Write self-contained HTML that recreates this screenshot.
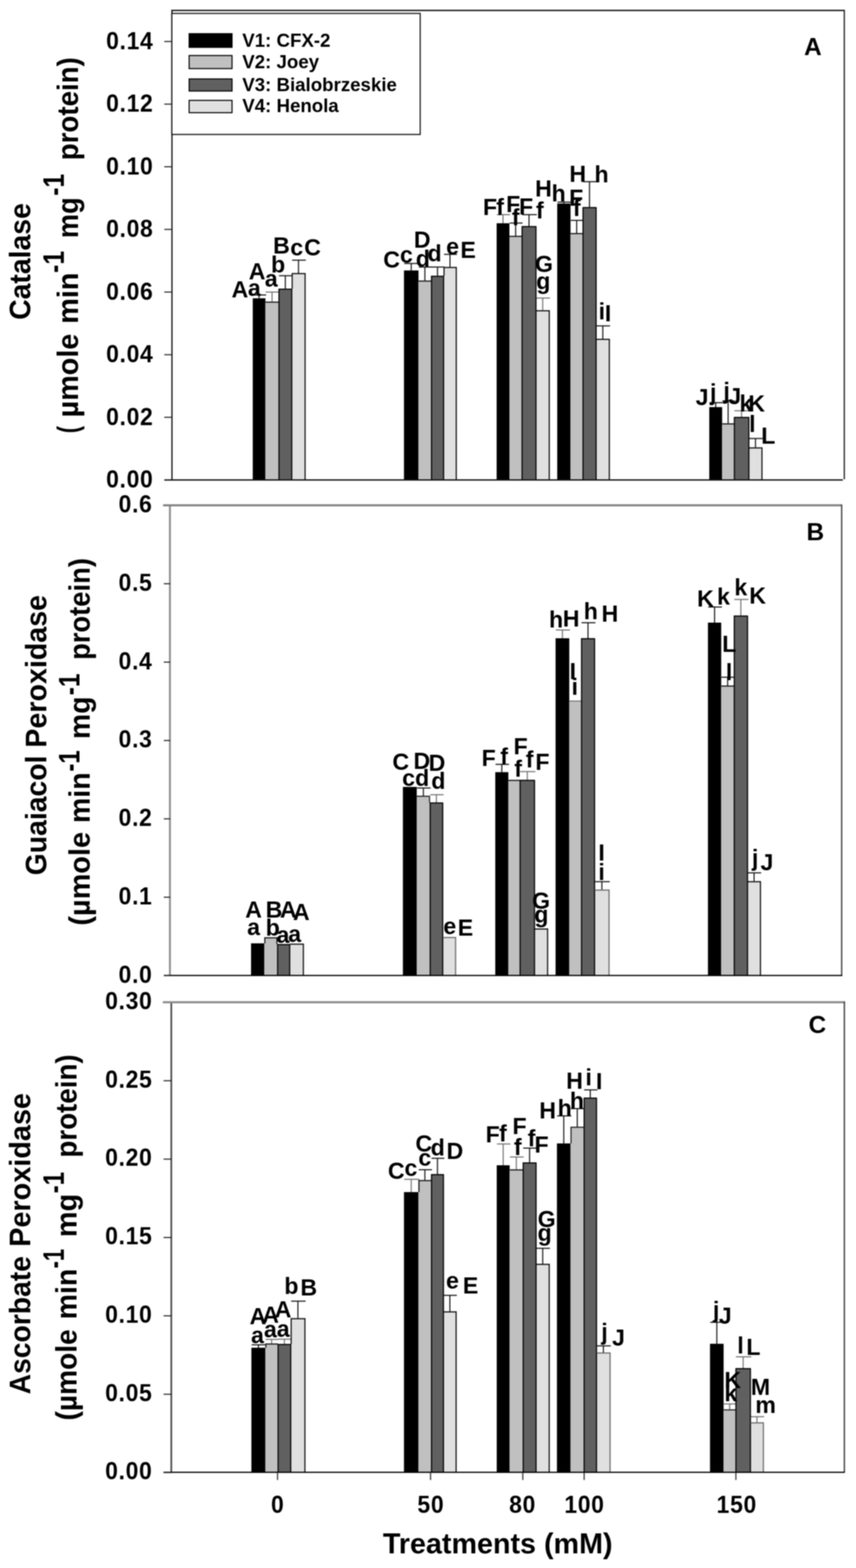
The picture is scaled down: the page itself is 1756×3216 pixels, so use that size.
<!DOCTYPE html>
<html lang="en">
<head>
<meta charset="utf-8">
<title>Antioxidant enzyme activity</title>
<style>
html,body{margin:0;padding:0;background:#fff;}
body{width:1756px;height:3216px;overflow:hidden;}
svg{display:block;filter:blur(0.9px);}
svg text{font-family:"Liberation Sans",Arial,Helvetica,sans-serif;font-weight:bold;fill:#000;}
</style>
</head>
<body>
<svg width="1756" height="3216" viewBox="0 0 1756 3216">
<rect x="0" y="0" width="1756" height="3216" fill="#ffffff"/>
<line x1="531.5" y1="605.0" x2="531.5" y2="611.8" stroke="#111" stroke-width="2.2"/>
<line x1="519.0" y1="605.0" x2="546.0" y2="605.0" stroke="#111" stroke-width="2.2"/>
<line x1="558.1" y1="599.0" x2="558.1" y2="618.8" stroke="#707070" stroke-width="2.2"/>
<line x1="545.0" y1="599.0" x2="573.3" y2="599.0" stroke="#707070" stroke-width="2.2"/>
<line x1="585.3" y1="565.5" x2="585.3" y2="592.2" stroke="#111" stroke-width="2.2"/>
<line x1="572.3" y1="565.5" x2="600.3" y2="565.5" stroke="#111" stroke-width="2.2"/>
<line x1="612.3" y1="533.6" x2="612.3" y2="560.2" stroke="#111" stroke-width="2.2"/>
<line x1="599.3" y1="533.6" x2="627.4" y2="533.6" stroke="#111" stroke-width="2.2"/>
<rect x="518.5" y="611.8" width="26.0" height="372.6" fill="#000000"/>
<rect x="544.5" y="618.8" width="27.3" height="365.6" fill="#c0c0c0"/>
<rect x="571.8" y="592.2" width="27.0" height="392.2" fill="#606060"/>
<rect x="598.8" y="560.2" width="27.1" height="424.2" fill="#e0e0e0"/>
<line x1="544.5" y1="619.7" x2="571.8" y2="619.7" stroke="#111" stroke-width="2.3"/>
<line x1="571.8" y1="593.1" x2="598.8" y2="593.1" stroke="#000" stroke-width="2.3"/>
<line x1="572.3" y1="592.2" x2="572.3" y2="984.4" stroke="#000" stroke-width="2.3"/>
<line x1="598.5" y1="592.2" x2="598.5" y2="984.4" stroke="#000" stroke-width="2.3"/>
<line x1="598.8" y1="561.1" x2="626.8" y2="561.1" stroke="#080808" stroke-width="2.3"/>
<line x1="625.9" y1="560.2" x2="625.9" y2="984.4" stroke="#080808" stroke-width="2.3"/>
<line x1="599.4" y1="560.2" x2="599.4" y2="592.2" stroke="#080808" stroke-width="2.3"/>
<line x1="843.6" y1="540.4" x2="843.6" y2="554.7" stroke="#111" stroke-width="2.2"/>
<line x1="829.2" y1="540.4" x2="860.0" y2="540.4" stroke="#111" stroke-width="2.2"/>
<line x1="871.6" y1="547.7" x2="871.6" y2="575.6" stroke="#111" stroke-width="2.2"/>
<line x1="859.0" y1="547.7" x2="886.2" y2="547.7" stroke="#111" stroke-width="2.2"/>
<line x1="897.5" y1="547.7" x2="897.5" y2="565.8" stroke="#111" stroke-width="2.2"/>
<line x1="885.2" y1="547.7" x2="911.8" y2="547.7" stroke="#111" stroke-width="2.2"/>
<line x1="923.1" y1="521.7" x2="923.1" y2="547.7" stroke="#111" stroke-width="2.2"/>
<line x1="910.8" y1="521.7" x2="937.5" y2="521.7" stroke="#111" stroke-width="2.2"/>
<rect x="828.7" y="554.7" width="29.8" height="429.7" fill="#000000"/>
<rect x="858.5" y="575.6" width="26.2" height="408.8" fill="#c0c0c0"/>
<rect x="884.7" y="565.8" width="25.6" height="418.6" fill="#606060"/>
<rect x="910.3" y="547.7" width="25.7" height="436.7" fill="#e0e0e0"/>
<line x1="858.5" y1="576.5" x2="884.7" y2="576.5" stroke="#111" stroke-width="2.3"/>
<line x1="884.7" y1="566.7" x2="910.3" y2="566.7" stroke="#000" stroke-width="2.3"/>
<line x1="885.2" y1="565.8" x2="885.2" y2="984.4" stroke="#000" stroke-width="2.3"/>
<line x1="910.0" y1="565.8" x2="910.0" y2="984.4" stroke="#000" stroke-width="2.3"/>
<line x1="910.3" y1="548.6" x2="936.9" y2="548.6" stroke="#080808" stroke-width="2.3"/>
<line x1="936.0" y1="547.7" x2="936.0" y2="984.4" stroke="#080808" stroke-width="2.3"/>
<line x1="910.9" y1="547.7" x2="910.9" y2="565.8" stroke="#080808" stroke-width="2.3"/>
<line x1="1031.9" y1="440.2" x2="1031.9" y2="457.9" stroke="#707070" stroke-width="2.2"/>
<line x1="1019.3" y1="440.2" x2="1046.5" y2="440.2" stroke="#707070" stroke-width="2.2"/>
<line x1="1057.8" y1="457.5" x2="1057.8" y2="483.9" stroke="#111" stroke-width="2.2"/>
<line x1="1045.5" y1="457.5" x2="1072.0" y2="457.5" stroke="#111" stroke-width="2.2"/>
<line x1="1085.2" y1="440.2" x2="1085.2" y2="463.9" stroke="#111" stroke-width="2.2"/>
<line x1="1071.0" y1="440.2" x2="1101.3" y2="440.2" stroke="#111" stroke-width="2.2"/>
<line x1="1113.3" y1="611.3" x2="1113.3" y2="636.5" stroke="#707070" stroke-width="2.2"/>
<line x1="1100.3" y1="611.3" x2="1128.3" y2="611.3" stroke="#707070" stroke-width="2.2"/>
<rect x="1018.8" y="457.9" width="26.2" height="526.5" fill="#000000"/>
<rect x="1045.0" y="483.9" width="25.5" height="500.5" fill="#c0c0c0"/>
<rect x="1070.5" y="463.9" width="29.3" height="520.5" fill="#606060"/>
<rect x="1099.8" y="636.5" width="27.0" height="347.9" fill="#e0e0e0"/>
<line x1="1045.0" y1="484.8" x2="1070.5" y2="484.8" stroke="#111" stroke-width="2.3"/>
<line x1="1070.5" y1="464.8" x2="1099.8" y2="464.8" stroke="#000" stroke-width="2.3"/>
<line x1="1071.0" y1="463.9" x2="1071.0" y2="984.4" stroke="#000" stroke-width="2.3"/>
<line x1="1099.5" y1="463.9" x2="1099.5" y2="984.4" stroke="#000" stroke-width="2.3"/>
<line x1="1099.8" y1="637.4" x2="1127.7" y2="637.4" stroke="#080808" stroke-width="2.3"/>
<line x1="1126.8" y1="636.5" x2="1126.8" y2="984.4" stroke="#080808" stroke-width="2.3"/>
<line x1="1156.8" y1="414.5" x2="1156.8" y2="417.4" stroke="#111" stroke-width="2.2"/>
<line x1="1143.6" y1="414.5" x2="1171.9" y2="414.5" stroke="#111" stroke-width="2.2"/>
<line x1="1183.0" y1="452.0" x2="1183.0" y2="478.2" stroke="#111" stroke-width="2.2"/>
<line x1="1170.9" y1="452.0" x2="1197.0" y2="452.0" stroke="#111" stroke-width="2.2"/>
<line x1="1209.3" y1="372.6" x2="1209.3" y2="424.9" stroke="#111" stroke-width="2.2"/>
<line x1="1196.0" y1="372.6" x2="1224.7" y2="372.6" stroke="#111" stroke-width="2.2"/>
<line x1="1236.6" y1="668.4" x2="1236.6" y2="695.1" stroke="#111" stroke-width="2.2"/>
<line x1="1223.7" y1="668.4" x2="1251.5" y2="668.4" stroke="#111" stroke-width="2.2"/>
<rect x="1143.1" y="417.4" width="27.3" height="567.0" fill="#000000"/>
<rect x="1170.4" y="478.2" width="25.1" height="506.2" fill="#c0c0c0"/>
<rect x="1195.5" y="424.9" width="27.7" height="559.5" fill="#606060"/>
<rect x="1223.2" y="695.1" width="26.8" height="289.3" fill="#e0e0e0"/>
<line x1="1170.4" y1="479.1" x2="1195.5" y2="479.1" stroke="#111" stroke-width="2.3"/>
<line x1="1195.5" y1="425.8" x2="1223.2" y2="425.8" stroke="#000" stroke-width="2.3"/>
<line x1="1196.0" y1="424.9" x2="1196.0" y2="984.4" stroke="#000" stroke-width="2.3"/>
<line x1="1222.9" y1="424.9" x2="1222.9" y2="984.4" stroke="#000" stroke-width="2.3"/>
<line x1="1223.2" y1="696.0" x2="1250.9" y2="696.0" stroke="#080808" stroke-width="2.3"/>
<line x1="1250.0" y1="695.1" x2="1250.0" y2="984.4" stroke="#080808" stroke-width="2.3"/>
<line x1="1468.2" y1="825.9" x2="1468.2" y2="835.0" stroke="#111" stroke-width="2.2"/>
<line x1="1455.5" y1="825.9" x2="1482.9" y2="825.9" stroke="#111" stroke-width="2.2"/>
<line x1="1493.7" y1="822.2" x2="1493.7" y2="868.5" stroke="#111" stroke-width="2.2"/>
<line x1="1481.9" y1="822.2" x2="1507.5" y2="822.2" stroke="#111" stroke-width="2.2"/>
<line x1="1521.2" y1="842.5" x2="1521.2" y2="855.3" stroke="#707070" stroke-width="2.2"/>
<line x1="1506.5" y1="842.5" x2="1538.0" y2="842.5" stroke="#707070" stroke-width="2.2"/>
<line x1="1549.8" y1="899.4" x2="1549.8" y2="917.8" stroke="#111" stroke-width="2.2"/>
<line x1="1537.0" y1="899.4" x2="1564.6" y2="899.4" stroke="#111" stroke-width="2.2"/>
<rect x="1455.0" y="835.0" width="26.4" height="149.4" fill="#000000"/>
<rect x="1481.4" y="868.5" width="24.6" height="115.9" fill="#c0c0c0"/>
<rect x="1506.0" y="855.3" width="30.5" height="129.1" fill="#606060"/>
<rect x="1536.5" y="917.8" width="26.6" height="66.6" fill="#e0e0e0"/>
<line x1="1481.4" y1="869.4" x2="1506.0" y2="869.4" stroke="#111" stroke-width="2.3"/>
<line x1="1506.0" y1="856.2" x2="1536.5" y2="856.2" stroke="#000" stroke-width="2.3"/>
<line x1="1506.5" y1="855.3" x2="1506.5" y2="984.4" stroke="#000" stroke-width="2.3"/>
<line x1="1536.2" y1="855.3" x2="1536.2" y2="984.4" stroke="#000" stroke-width="2.3"/>
<line x1="1536.5" y1="918.7" x2="1564.0" y2="918.7" stroke="#080808" stroke-width="2.3"/>
<line x1="1563.1" y1="917.8" x2="1563.1" y2="984.4" stroke="#080808" stroke-width="2.3"/>
<line x1="352.8" y1="20.3" x2="352.8" y2="985.4" stroke="#111" stroke-width="2.6"/>
<line x1="351.5" y1="21.3" x2="1733.0" y2="21.3" stroke="#111" stroke-width="2.8"/>
<line x1="1732.0" y1="20.3" x2="1732.0" y2="983.0" stroke="#222" stroke-width="2.6"/>
<line x1="337.0" y1="984.4" x2="1729.0" y2="984.4" stroke="#111" stroke-width="2.8"/>
<line x1="337.0" y1="85.1" x2="352.8" y2="85.1" stroke="#222" stroke-width="2.2"/>
<text transform="translate(314.9,100.9) scale(1,1.065)" font-size="47" letter-spacing="1.4" text-anchor="end">0.14</text>
<line x1="337.0" y1="213.6" x2="352.8" y2="213.6" stroke="#222" stroke-width="2.2"/>
<text transform="translate(314.9,229.4) scale(1,1.065)" font-size="47" letter-spacing="1.4" text-anchor="end">0.12</text>
<line x1="337.0" y1="342.0" x2="352.8" y2="342.0" stroke="#222" stroke-width="2.2"/>
<text transform="translate(314.9,357.8) scale(1,1.065)" font-size="47" letter-spacing="1.4" text-anchor="end">0.10</text>
<line x1="337.0" y1="470.5" x2="352.8" y2="470.5" stroke="#222" stroke-width="2.2"/>
<text transform="translate(314.9,486.3) scale(1,1.065)" font-size="47" letter-spacing="1.4" text-anchor="end">0.08</text>
<line x1="337.0" y1="599.0" x2="352.8" y2="599.0" stroke="#222" stroke-width="2.2"/>
<text transform="translate(314.9,614.8) scale(1,1.065)" font-size="47" letter-spacing="1.4" text-anchor="end">0.06</text>
<line x1="337.0" y1="727.5" x2="352.8" y2="727.5" stroke="#222" stroke-width="2.2"/>
<text transform="translate(314.9,743.2) scale(1,1.065)" font-size="47" letter-spacing="1.4" text-anchor="end">0.04</text>
<line x1="337.0" y1="855.9" x2="352.8" y2="855.9" stroke="#222" stroke-width="2.2"/>
<text transform="translate(314.9,871.7) scale(1,1.065)" font-size="47" letter-spacing="1.4" text-anchor="end">0.02</text>
<line x1="337.0" y1="984.4" x2="352.8" y2="984.4" stroke="#222" stroke-width="2.2"/>
<text transform="translate(314.9,1000.2) scale(1,1.065)" font-size="47" letter-spacing="1.4" text-anchor="end">0.00</text>
<text x="475.1" y="610.3" font-size="47.5" text-anchor="start">A</text>
<text x="508.5" y="607.0" font-size="47.5" text-anchor="start">a</text>
<text x="510.3" y="573.0" font-size="47.5" text-anchor="start">A</text>
<text x="543.2" y="588.0" font-size="47.5" text-anchor="start">a</text>
<text x="556.1" y="558.5" font-size="47.5" text-anchor="start">b</text>
<text x="560.3" y="519.7" font-size="47.5" text-anchor="start">B</text>
<text x="595.6" y="524.0" font-size="47.5" text-anchor="start">c</text>
<text x="624.0" y="524.0" font-size="47.5" text-anchor="start">C</text>
<text x="786.2" y="549.0" font-size="47.5" text-anchor="start">C</text>
<text x="820.6" y="538.5" font-size="47.5" text-anchor="start">c</text>
<text x="848.9" y="507.8" font-size="47.5" text-anchor="start">D</text>
<text x="853.1" y="547.0" font-size="47.5" text-anchor="start">d</text>
<text x="877.1" y="535.5" font-size="47.5" text-anchor="start">d</text>
<text x="915.2" y="521.7" font-size="47.5" text-anchor="start">e</text>
<text x="944.5" y="529.0" font-size="47.5" text-anchor="start">E</text>
<text x="990.8" y="441.3" font-size="47.5" text-anchor="start">F</text>
<text x="1018.0" y="441.0" font-size="47.5" text-anchor="start">f</text>
<text x="1038.3" y="434.5" font-size="47.5" text-anchor="start">F</text>
<text x="1050.0" y="462.0" font-size="47.5" text-anchor="start">f</text>
<text x="1064.8" y="440.2" font-size="47.5" text-anchor="start">F</text>
<text x="1099.6" y="448.3" font-size="47.5" text-anchor="start">f</text>
<text x="1097.5" y="557.6" font-size="47.5" text-anchor="start">G</text>
<text x="1100.0" y="593.0" font-size="47.5" text-anchor="start">g</text>
<text x="1097.8" y="402.5" font-size="47.5" text-anchor="start">H</text>
<text x="1131.6" y="413.2" font-size="47.5" text-anchor="start">h</text>
<text x="1167.4" y="421.7" font-size="47.5" text-anchor="start">F</text>
<text x="1175.2" y="443.0" font-size="47.5" text-anchor="start">f</text>
<text x="1168.1" y="372.6" font-size="47.5" text-anchor="start">H</text>
<text x="1219.6" y="373.7" font-size="47.5" text-anchor="start">h</text>
<text x="1228.0" y="654.6" font-size="47.5" text-anchor="start">i</text>
<text x="1240.8" y="658.8" font-size="47.5" text-anchor="start">I</text>
<text x="1427.1" y="831.0" font-size="47.5" text-anchor="start">J</text>
<text x="1456.4" y="821.0" font-size="47.5" text-anchor="start">j</text>
<text x="1483.9" y="818.0" font-size="47.5" text-anchor="start">j</text>
<text x="1494.1" y="828.5" font-size="47.5" text-anchor="start">J</text>
<text x="1517.1" y="843.6" font-size="47.5" text-anchor="start">k</text>
<text x="1535.0" y="843.6" font-size="47.5" text-anchor="start">K</text>
<text x="1536.8" y="886.2" font-size="47.5" text-anchor="start">l</text>
<text x="1561.6" y="909.7" font-size="47.5" text-anchor="start">L</text>
<text x="1649.5" y="113.0" font-size="50" text-anchor="start">A</text>
<rect x="515.0" y="1934.8" width="27.3" height="66.2" fill="#000000"/>
<rect x="542.3" y="1922.6" width="26.7" height="78.4" fill="#c0c0c0"/>
<rect x="569.0" y="1936.5" width="25.6" height="64.5" fill="#606060"/>
<rect x="594.6" y="1935.6" width="27.7" height="65.4" fill="#e0e0e0"/>
<line x1="542.3" y1="1923.5" x2="569.0" y2="1923.5" stroke="#111" stroke-width="2.3"/>
<line x1="543.2" y1="1922.6" x2="543.2" y2="1934.8" stroke="#111" stroke-width="2.3"/>
<line x1="568.1" y1="1922.6" x2="568.1" y2="1936.5" stroke="#111" stroke-width="2.3"/>
<line x1="569.0" y1="1937.4" x2="594.6" y2="1937.4" stroke="#000" stroke-width="2.3"/>
<line x1="569.5" y1="1936.5" x2="569.5" y2="2001.0" stroke="#000" stroke-width="2.3"/>
<line x1="594.3" y1="1936.5" x2="594.3" y2="2001.0" stroke="#000" stroke-width="2.3"/>
<line x1="594.6" y1="1936.5" x2="623.2" y2="1936.5" stroke="#080808" stroke-width="2.3"/>
<line x1="622.3" y1="1935.6" x2="622.3" y2="2001.0" stroke="#080808" stroke-width="2.3"/>
<line x1="868.5" y1="1616.2" x2="868.5" y2="1632.2" stroke="#111" stroke-width="2.2"/>
<line x1="855.4" y1="1616.2" x2="883.5" y2="1616.2" stroke="#111" stroke-width="2.2"/>
<line x1="895.2" y1="1630.0" x2="895.2" y2="1646.0" stroke="#707070" stroke-width="2.2"/>
<line x1="882.5" y1="1630.0" x2="910.0" y2="1630.0" stroke="#707070" stroke-width="2.2"/>
<rect x="826.5" y="1614.0" width="28.4" height="387.0" fill="#000000"/>
<rect x="854.9" y="1632.2" width="27.1" height="368.8" fill="#c0c0c0"/>
<rect x="882.0" y="1646.0" width="26.5" height="355.0" fill="#606060"/>
<rect x="908.5" y="1922.0" width="26.1" height="79.0" fill="#e0e0e0"/>
<line x1="854.9" y1="1633.1" x2="882.0" y2="1633.1" stroke="#222" stroke-width="2.3"/>
<line x1="881.1" y1="1632.2" x2="881.1" y2="1646.0" stroke="#222" stroke-width="2.3"/>
<line x1="882.0" y1="1646.9" x2="908.5" y2="1646.9" stroke="#000" stroke-width="2.3"/>
<line x1="882.5" y1="1646.0" x2="882.5" y2="2001.0" stroke="#000" stroke-width="2.3"/>
<line x1="908.2" y1="1646.0" x2="908.2" y2="2001.0" stroke="#000" stroke-width="2.3"/>
<line x1="908.5" y1="1922.9" x2="935.5" y2="1922.9" stroke="#666" stroke-width="2.3"/>
<line x1="934.6" y1="1922.0" x2="934.6" y2="2001.0" stroke="#666" stroke-width="2.3"/>
<line x1="1029.4" y1="1567.7" x2="1029.4" y2="1583.7" stroke="#111" stroke-width="2.2"/>
<line x1="1016.5" y1="1567.7" x2="1044.3" y2="1567.7" stroke="#111" stroke-width="2.2"/>
<line x1="1081.7" y1="1582.6" x2="1081.7" y2="1599.7" stroke="#707070" stroke-width="2.2"/>
<line x1="1067.0" y1="1582.6" x2="1098.3" y2="1582.6" stroke="#707070" stroke-width="2.2"/>
<rect x="1016.0" y="1583.7" width="26.8" height="417.3" fill="#000000"/>
<rect x="1042.8" y="1599.7" width="23.7" height="401.3" fill="#c0c0c0"/>
<rect x="1066.5" y="1599.7" width="30.3" height="401.3" fill="#606060"/>
<rect x="1096.8" y="1904.5" width="26.5" height="96.5" fill="#e0e0e0"/>
<line x1="1042.8" y1="1600.6" x2="1066.5" y2="1600.6" stroke="#111" stroke-width="2.3"/>
<line x1="1066.5" y1="1600.6" x2="1096.8" y2="1600.6" stroke="#000" stroke-width="2.3"/>
<line x1="1067.0" y1="1599.7" x2="1067.0" y2="2001.0" stroke="#000" stroke-width="2.3"/>
<line x1="1096.5" y1="1599.7" x2="1096.5" y2="2001.0" stroke="#000" stroke-width="2.3"/>
<line x1="1096.8" y1="1905.4" x2="1124.2" y2="1905.4" stroke="#080808" stroke-width="2.3"/>
<line x1="1123.3" y1="1904.5" x2="1123.3" y2="2001.0" stroke="#080808" stroke-width="2.3"/>
<line x1="1153.8" y1="1292.1" x2="1153.8" y2="1309.1" stroke="#707070" stroke-width="2.2"/>
<line x1="1140.2" y1="1292.1" x2="1169.3" y2="1292.1" stroke="#707070" stroke-width="2.2"/>
<line x1="1206.2" y1="1277.2" x2="1206.2" y2="1309.1" stroke="#111" stroke-width="2.2"/>
<line x1="1193.0" y1="1277.2" x2="1221.5" y2="1277.2" stroke="#111" stroke-width="2.2"/>
<line x1="1234.7" y1="1808.3" x2="1234.7" y2="1824.7" stroke="#111" stroke-width="2.2"/>
<line x1="1220.5" y1="1808.3" x2="1250.9" y2="1808.3" stroke="#111" stroke-width="2.2"/>
<rect x="1139.7" y="1309.1" width="28.1" height="691.9" fill="#000000"/>
<rect x="1167.8" y="1437.0" width="24.7" height="564.0" fill="#c0c0c0"/>
<rect x="1192.5" y="1309.1" width="27.5" height="691.9" fill="#606060"/>
<rect x="1220.0" y="1824.7" width="29.4" height="176.3" fill="#e0e0e0"/>
<line x1="1167.8" y1="1437.9" x2="1192.5" y2="1437.9" stroke="#777" stroke-width="2.3"/>
<line x1="1192.5" y1="1310.0" x2="1220.0" y2="1310.0" stroke="#000" stroke-width="2.3"/>
<line x1="1193.0" y1="1309.1" x2="1193.0" y2="2001.0" stroke="#000" stroke-width="2.3"/>
<line x1="1219.7" y1="1309.1" x2="1219.7" y2="2001.0" stroke="#000" stroke-width="2.3"/>
<line x1="1220.0" y1="1825.6" x2="1250.3" y2="1825.6" stroke="#666" stroke-width="2.3"/>
<line x1="1249.4" y1="1824.7" x2="1249.4" y2="2001.0" stroke="#666" stroke-width="2.3"/>
<line x1="1465.9" y1="1245.0" x2="1465.9" y2="1277.0" stroke="#111" stroke-width="2.2"/>
<line x1="1452.8" y1="1245.0" x2="1481.0" y2="1245.0" stroke="#111" stroke-width="2.2"/>
<line x1="1492.7" y1="1389.0" x2="1492.7" y2="1406.2" stroke="#111" stroke-width="2.2"/>
<line x1="1480.0" y1="1389.0" x2="1507.3" y2="1389.0" stroke="#111" stroke-width="2.2"/>
<line x1="1519.8" y1="1229.5" x2="1519.8" y2="1262.7" stroke="#707070" stroke-width="2.2"/>
<line x1="1506.3" y1="1229.5" x2="1535.3" y2="1229.5" stroke="#707070" stroke-width="2.2"/>
<line x1="1546.9" y1="1790.2" x2="1546.9" y2="1807.5" stroke="#111" stroke-width="2.2"/>
<line x1="1534.3" y1="1790.2" x2="1561.5" y2="1790.2" stroke="#111" stroke-width="2.2"/>
<rect x="1452.3" y="1277.0" width="27.2" height="724.0" fill="#000000"/>
<rect x="1479.5" y="1406.2" width="26.3" height="594.8" fill="#c0c0c0"/>
<rect x="1505.8" y="1262.7" width="28.0" height="738.3" fill="#606060"/>
<rect x="1533.8" y="1807.5" width="26.2" height="193.5" fill="#e0e0e0"/>
<line x1="1479.5" y1="1407.1" x2="1505.8" y2="1407.1" stroke="#111" stroke-width="2.3"/>
<line x1="1505.8" y1="1263.6" x2="1533.8" y2="1263.6" stroke="#000" stroke-width="2.3"/>
<line x1="1506.3" y1="1262.7" x2="1506.3" y2="2001.0" stroke="#000" stroke-width="2.3"/>
<line x1="1533.5" y1="1262.7" x2="1533.5" y2="2001.0" stroke="#000" stroke-width="2.3"/>
<line x1="1533.8" y1="1808.4" x2="1560.9" y2="1808.4" stroke="#080808" stroke-width="2.3"/>
<line x1="1560.0" y1="1807.5" x2="1560.0" y2="2001.0" stroke="#080808" stroke-width="2.3"/>
<line x1="348.6" y1="1035.0" x2="348.6" y2="2001.0" stroke="#8a8a8a" stroke-width="3.8"/>
<line x1="334.5" y1="1036.3" x2="1728.0" y2="1036.3" stroke="#808080" stroke-width="4.2"/>
<line x1="1726.6" y1="1035.0" x2="1726.6" y2="2001.0" stroke="#484848" stroke-width="2.8"/>
<line x1="336.0" y1="2000.8" x2="1728.0" y2="2000.8" stroke="#000" stroke-width="2.6"/>
<text transform="translate(312.9,1051.1) scale(1,1.065)" font-size="47" letter-spacing="1.4" text-anchor="end">0.6</text>
<line x1="336.0" y1="1197.2" x2="349.1" y2="1197.2" stroke="#222" stroke-width="2.2"/>
<text transform="translate(312.9,1211.8) scale(1,1.065)" font-size="47" letter-spacing="1.4" text-anchor="end">0.5</text>
<line x1="336.0" y1="1358.0" x2="349.1" y2="1358.0" stroke="#222" stroke-width="2.2"/>
<text transform="translate(312.9,1372.6) scale(1,1.065)" font-size="47" letter-spacing="1.4" text-anchor="end">0.4</text>
<line x1="336.0" y1="1518.8" x2="349.1" y2="1518.8" stroke="#222" stroke-width="2.2"/>
<text transform="translate(312.9,1533.3) scale(1,1.065)" font-size="47" letter-spacing="1.4" text-anchor="end">0.3</text>
<line x1="336.0" y1="1679.5" x2="349.1" y2="1679.5" stroke="#222" stroke-width="2.2"/>
<text transform="translate(312.9,1694.1) scale(1,1.065)" font-size="47" letter-spacing="1.4" text-anchor="end">0.2</text>
<line x1="336.0" y1="1840.2" x2="349.1" y2="1840.2" stroke="#222" stroke-width="2.2"/>
<text transform="translate(312.9,1854.8) scale(1,1.065)" font-size="47" letter-spacing="1.4" text-anchor="end">0.1</text>
<line x1="336.0" y1="2001.0" x2="349.1" y2="2001.0" stroke="#222" stroke-width="2.2"/>
<text transform="translate(312.9,2015.6) scale(1,1.065)" font-size="47" letter-spacing="1.4" text-anchor="end">0.0</text>
<text x="502.9" y="1881.7" font-size="47.5" text-anchor="start">A</text>
<text x="507.1" y="1918.3" font-size="47.5" text-anchor="start">a</text>
<text x="544.9" y="1881.7" font-size="47.5" text-anchor="start">B</text>
<text x="544.9" y="1919.4" font-size="47.5" text-anchor="start">b</text>
<text x="574.3" y="1881.7" font-size="47.5" text-anchor="start">A</text>
<text x="600.9" y="1887.4" font-size="47.5" text-anchor="start">A</text>
<text x="567.2" y="1934.3" font-size="47.5" text-anchor="start">a</text>
<text x="591.2" y="1932.2" font-size="47.5" text-anchor="start">a</text>
<text x="804.9" y="1578.9" font-size="47.5" text-anchor="start">C</text>
<text x="848.3" y="1577.2" font-size="47.5" text-anchor="start">D</text>
<text x="879.3" y="1581.0" font-size="47.5" text-anchor="start">D</text>
<text x="825.0" y="1612.0" font-size="47.5" text-anchor="start">c</text>
<text x="851.6" y="1612.0" font-size="47.5" text-anchor="start">d</text>
<text x="884.7" y="1618.3" font-size="47.5" text-anchor="start">d</text>
<text x="909.6" y="1916.2" font-size="47.5" text-anchor="start">e</text>
<text x="938.9" y="1919.4" font-size="47.5" text-anchor="start">E</text>
<text x="988.0" y="1570.9" font-size="47.5" text-anchor="start">F</text>
<text x="1026.2" y="1567.7" font-size="47.5" text-anchor="start">f</text>
<text x="1053.5" y="1547.4" font-size="47.5" text-anchor="start">F</text>
<text x="1055.0" y="1593.3" font-size="47.5" text-anchor="start">f</text>
<text x="1078.5" y="1574.0" font-size="47.5" text-anchor="start">f</text>
<text x="1098.3" y="1579.4" font-size="47.5" text-anchor="start">F</text>
<text x="1091.5" y="1864.0" font-size="47.5" text-anchor="start">G</text>
<text x="1096.1" y="1892.0" font-size="47.5" text-anchor="start">g</text>
<text x="1126.3" y="1286.8" font-size="47.5" text-anchor="start">h</text>
<text x="1154.6" y="1284.6" font-size="47.5" text-anchor="start">H</text>
<text x="1197.5" y="1269.7" font-size="47.5" text-anchor="start">h</text>
<text x="1233.9" y="1275.0" font-size="47.5" text-anchor="start">H</text>
<text x="1168.4" y="1392.5" font-size="47.5" text-anchor="start">I</text>
<text x="1172.6" y="1425.2" font-size="47.5" text-anchor="start">i</text>
<text x="1227.4" y="1765.0" font-size="47.5" text-anchor="start">I</text>
<text x="1227.4" y="1804.5" font-size="47.5" text-anchor="start">i</text>
<text x="1430.0" y="1244.0" font-size="47.5" text-anchor="start">K</text>
<text x="1470.9" y="1239.7" font-size="47.5" text-anchor="start">k</text>
<text x="1506.6" y="1220.5" font-size="47.5" text-anchor="start">k</text>
<text x="1537.1" y="1237.6" font-size="47.5" text-anchor="start">K</text>
<text x="1481.6" y="1336.7" font-size="47.5" text-anchor="start">L</text>
<text x="1489.0" y="1395.3" font-size="47.5" text-anchor="start">l</text>
<text x="1542.4" y="1776.0" font-size="47.5" text-anchor="start">j</text>
<text x="1559.9" y="1784.5" font-size="47.5" text-anchor="start">J</text>
<text x="1654.4" y="1108.2" font-size="50" text-anchor="start">B</text>
<line x1="530.1" y1="2758.2" x2="530.1" y2="2764.2" stroke="#111" stroke-width="2.2"/>
<line x1="516.2" y1="2758.2" x2="546.0" y2="2758.2" stroke="#111" stroke-width="2.2"/>
<line x1="557.2" y1="2747.1" x2="557.2" y2="2755.7" stroke="#707070" stroke-width="2.2"/>
<line x1="545.0" y1="2747.1" x2="571.5" y2="2747.1" stroke="#707070" stroke-width="2.2"/>
<line x1="583.4" y1="2746.7" x2="583.4" y2="2756.7" stroke="#707070" stroke-width="2.2"/>
<line x1="570.5" y1="2746.7" x2="598.2" y2="2746.7" stroke="#707070" stroke-width="2.2"/>
<line x1="611.1" y1="2668.7" x2="611.1" y2="2703.8" stroke="#111" stroke-width="2.2"/>
<line x1="597.2" y1="2668.7" x2="627.0" y2="2668.7" stroke="#111" stroke-width="2.2"/>
<rect x="515.7" y="2764.2" width="28.8" height="255.6" fill="#000000"/>
<rect x="544.5" y="2755.7" width="25.5" height="264.1" fill="#c0c0c0"/>
<rect x="570.0" y="2756.7" width="26.7" height="263.1" fill="#606060"/>
<rect x="596.7" y="2703.8" width="28.8" height="316.0" fill="#e0e0e0"/>
<line x1="544.5" y1="2756.6" x2="570.0" y2="2756.6" stroke="#111" stroke-width="2.3"/>
<line x1="545.4" y1="2755.7" x2="545.4" y2="2764.2" stroke="#111" stroke-width="2.3"/>
<line x1="570.0" y1="2757.6" x2="596.7" y2="2757.6" stroke="#000" stroke-width="2.3"/>
<line x1="570.5" y1="2756.7" x2="570.5" y2="3019.8" stroke="#000" stroke-width="2.3"/>
<line x1="596.4" y1="2756.7" x2="596.4" y2="3019.8" stroke="#000" stroke-width="2.3"/>
<line x1="596.7" y1="2704.7" x2="626.4" y2="2704.7" stroke="#080808" stroke-width="2.3"/>
<line x1="625.5" y1="2703.8" x2="625.5" y2="3019.8" stroke="#080808" stroke-width="2.3"/>
<line x1="597.3" y1="2703.8" x2="597.3" y2="2756.7" stroke="#080808" stroke-width="2.3"/>
<line x1="843.6" y1="2418.8" x2="843.6" y2="2445.0" stroke="#707070" stroke-width="2.2"/>
<line x1="829.2" y1="2418.8" x2="860.0" y2="2418.8" stroke="#707070" stroke-width="2.2"/>
<line x1="871.6" y1="2399.1" x2="871.6" y2="2420.5" stroke="#111" stroke-width="2.2"/>
<line x1="859.0" y1="2399.1" x2="886.2" y2="2399.1" stroke="#111" stroke-width="2.2"/>
<line x1="897.4" y1="2375.7" x2="897.4" y2="2408.3" stroke="#111" stroke-width="2.2"/>
<line x1="885.2" y1="2375.7" x2="911.5" y2="2375.7" stroke="#111" stroke-width="2.2"/>
<line x1="922.9" y1="2656.8" x2="922.9" y2="2689.8" stroke="#111" stroke-width="2.2"/>
<line x1="910.5" y1="2656.8" x2="937.2" y2="2656.8" stroke="#111" stroke-width="2.2"/>
<rect x="828.7" y="2445.0" width="29.8" height="574.8" fill="#000000"/>
<rect x="858.5" y="2420.5" width="26.2" height="599.3" fill="#c0c0c0"/>
<rect x="884.7" y="2408.3" width="25.3" height="611.5" fill="#606060"/>
<rect x="910.0" y="2689.8" width="25.7" height="330.0" fill="#e0e0e0"/>
<line x1="858.5" y1="2421.4" x2="884.7" y2="2421.4" stroke="#111" stroke-width="2.3"/>
<line x1="859.4" y1="2420.5" x2="859.4" y2="2445.0" stroke="#111" stroke-width="2.3"/>
<line x1="884.7" y1="2409.2" x2="910.0" y2="2409.2" stroke="#000" stroke-width="2.3"/>
<line x1="885.2" y1="2408.3" x2="885.2" y2="3019.8" stroke="#000" stroke-width="2.3"/>
<line x1="909.7" y1="2408.3" x2="909.7" y2="3019.8" stroke="#000" stroke-width="2.3"/>
<line x1="910.0" y1="2690.7" x2="936.6" y2="2690.7" stroke="#080808" stroke-width="2.3"/>
<line x1="935.7" y1="2689.8" x2="935.7" y2="3019.8" stroke="#080808" stroke-width="2.3"/>
<line x1="1032.2" y1="2346.3" x2="1032.2" y2="2390.0" stroke="#707070" stroke-width="2.2"/>
<line x1="1019.5" y1="2346.3" x2="1047.0" y2="2346.3" stroke="#707070" stroke-width="2.2"/>
<line x1="1059.2" y1="2373.0" x2="1059.2" y2="2398.6" stroke="#707070" stroke-width="2.2"/>
<line x1="1046.0" y1="2373.0" x2="1074.3" y2="2373.0" stroke="#707070" stroke-width="2.2"/>
<line x1="1086.4" y1="2354.8" x2="1086.4" y2="2384.3" stroke="#111" stroke-width="2.2"/>
<line x1="1073.3" y1="2354.8" x2="1101.5" y2="2354.8" stroke="#111" stroke-width="2.2"/>
<line x1="1113.3" y1="2560.3" x2="1113.3" y2="2592.3" stroke="#111" stroke-width="2.2"/>
<line x1="1100.5" y1="2560.3" x2="1128.2" y2="2560.3" stroke="#111" stroke-width="2.2"/>
<rect x="1019.0" y="2390.0" width="26.5" height="629.8" fill="#000000"/>
<rect x="1045.5" y="2398.6" width="27.3" height="621.2" fill="#c0c0c0"/>
<rect x="1072.8" y="2384.3" width="27.2" height="635.5" fill="#606060"/>
<rect x="1100.0" y="2592.3" width="26.7" height="427.5" fill="#e0e0e0"/>
<line x1="1045.5" y1="2399.5" x2="1072.8" y2="2399.5" stroke="#111" stroke-width="2.3"/>
<line x1="1072.8" y1="2385.2" x2="1100.0" y2="2385.2" stroke="#000" stroke-width="2.3"/>
<line x1="1073.3" y1="2384.3" x2="1073.3" y2="3019.8" stroke="#000" stroke-width="2.3"/>
<line x1="1099.7" y1="2384.3" x2="1099.7" y2="3019.8" stroke="#000" stroke-width="2.3"/>
<line x1="1100.0" y1="2593.2" x2="1127.6" y2="2593.2" stroke="#080808" stroke-width="2.3"/>
<line x1="1126.7" y1="2592.3" x2="1126.7" y2="3019.8" stroke="#080808" stroke-width="2.3"/>
<line x1="1156.5" y1="2288.7" x2="1156.5" y2="2345.2" stroke="#111" stroke-width="2.2"/>
<line x1="1143.0" y1="2288.7" x2="1172.0" y2="2288.7" stroke="#111" stroke-width="2.2"/>
<line x1="1184.2" y1="2273.8" x2="1184.2" y2="2311.1" stroke="#111" stroke-width="2.2"/>
<line x1="1171.0" y1="2273.8" x2="1199.3" y2="2273.8" stroke="#111" stroke-width="2.2"/>
<line x1="1210.9" y1="2235.4" x2="1210.9" y2="2251.4" stroke="#111" stroke-width="2.2"/>
<line x1="1198.3" y1="2235.4" x2="1225.5" y2="2235.4" stroke="#111" stroke-width="2.2"/>
<line x1="1237.8" y1="2760.4" x2="1237.8" y2="2774.1" stroke="#111" stroke-width="2.2"/>
<line x1="1224.5" y1="2760.4" x2="1253.0" y2="2760.4" stroke="#111" stroke-width="2.2"/>
<rect x="1142.5" y="2345.2" width="28.0" height="674.6" fill="#000000"/>
<rect x="1170.5" y="2311.1" width="27.3" height="708.7" fill="#c0c0c0"/>
<rect x="1197.8" y="2251.4" width="26.2" height="768.4" fill="#606060"/>
<rect x="1224.0" y="2774.1" width="27.5" height="245.7" fill="#e0e0e0"/>
<line x1="1170.5" y1="2312.0" x2="1197.8" y2="2312.0" stroke="#222" stroke-width="2.3"/>
<line x1="1171.4" y1="2311.1" x2="1171.4" y2="2345.2" stroke="#222" stroke-width="2.3"/>
<line x1="1197.8" y1="2252.3" x2="1224.0" y2="2252.3" stroke="#000" stroke-width="2.3"/>
<line x1="1198.3" y1="2251.4" x2="1198.3" y2="3019.8" stroke="#000" stroke-width="2.3"/>
<line x1="1223.7" y1="2251.4" x2="1223.7" y2="3019.8" stroke="#000" stroke-width="2.3"/>
<line x1="1224.0" y1="2775.0" x2="1252.4" y2="2775.0" stroke="#666" stroke-width="2.3"/>
<line x1="1251.5" y1="2774.1" x2="1251.5" y2="3019.8" stroke="#666" stroke-width="2.3"/>
<line x1="1470.5" y1="2712.0" x2="1470.5" y2="2756.1" stroke="#111" stroke-width="2.2"/>
<line x1="1457.0" y1="2712.0" x2="1485.9" y2="2712.0" stroke="#111" stroke-width="2.2"/>
<line x1="1496.8" y1="2879.5" x2="1496.8" y2="2890.8" stroke="#707070" stroke-width="2.2"/>
<line x1="1484.9" y1="2879.5" x2="1510.7" y2="2879.5" stroke="#707070" stroke-width="2.2"/>
<line x1="1524.5" y1="2782.8" x2="1524.5" y2="2806.2" stroke="#707070" stroke-width="2.2"/>
<line x1="1509.7" y1="2782.8" x2="1541.2" y2="2782.8" stroke="#707070" stroke-width="2.2"/>
<line x1="1552.8" y1="2905.7" x2="1552.8" y2="2917.4" stroke="#707070" stroke-width="2.2"/>
<line x1="1540.2" y1="2905.7" x2="1567.5" y2="2905.7" stroke="#707070" stroke-width="2.2"/>
<rect x="1456.5" y="2756.1" width="27.9" height="263.7" fill="#000000"/>
<rect x="1484.4" y="2890.8" width="24.8" height="129.0" fill="#c0c0c0"/>
<rect x="1509.2" y="2806.2" width="30.5" height="213.6" fill="#606060"/>
<rect x="1539.7" y="2917.4" width="26.3" height="102.4" fill="#e0e0e0"/>
<line x1="1484.4" y1="2891.7" x2="1509.2" y2="2891.7" stroke="#222" stroke-width="2.3"/>
<line x1="1509.2" y1="2807.1" x2="1539.7" y2="2807.1" stroke="#000" stroke-width="2.3"/>
<line x1="1509.7" y1="2806.2" x2="1509.7" y2="3019.8" stroke="#000" stroke-width="2.3"/>
<line x1="1539.4" y1="2806.2" x2="1539.4" y2="3019.8" stroke="#000" stroke-width="2.3"/>
<line x1="1539.7" y1="2918.3" x2="1566.9" y2="2918.3" stroke="#666" stroke-width="2.3"/>
<line x1="1566.0" y1="2917.4" x2="1566.0" y2="3019.8" stroke="#666" stroke-width="2.3"/>
<line x1="351.4" y1="2054.0" x2="351.4" y2="3020.0" stroke="#484848" stroke-width="3.4"/>
<line x1="334.0" y1="2055.6" x2="1733.5" y2="2055.6" stroke="#8a8a8a" stroke-width="4.2"/>
<line x1="1732.1" y1="2054.0" x2="1732.1" y2="3020.0" stroke="#404040" stroke-width="2.8"/>
<line x1="335.5" y1="3019.8" x2="1733.0" y2="3019.8" stroke="#000" stroke-width="2.6"/>
<text transform="translate(312.9,2069.9) scale(1,1.065)" font-size="47" letter-spacing="1.4" text-anchor="end">0.30</text>
<line x1="335.5" y1="2216.6" x2="352.0" y2="2216.6" stroke="#222" stroke-width="2.2"/>
<text transform="translate(312.9,2230.6) scale(1,1.065)" font-size="47" letter-spacing="1.4" text-anchor="end">0.25</text>
<line x1="335.5" y1="2377.4" x2="352.0" y2="2377.4" stroke="#222" stroke-width="2.2"/>
<text transform="translate(312.9,2391.4) scale(1,1.065)" font-size="47" letter-spacing="1.4" text-anchor="end">0.20</text>
<line x1="335.5" y1="2538.1" x2="352.0" y2="2538.1" stroke="#222" stroke-width="2.2"/>
<text transform="translate(312.9,2552.1) scale(1,1.065)" font-size="47" letter-spacing="1.4" text-anchor="end">0.15</text>
<line x1="335.5" y1="2698.8" x2="352.0" y2="2698.8" stroke="#222" stroke-width="2.2"/>
<text transform="translate(312.9,2712.8) scale(1,1.065)" font-size="47" letter-spacing="1.4" text-anchor="end">0.10</text>
<line x1="335.5" y1="2859.6" x2="352.0" y2="2859.6" stroke="#222" stroke-width="2.2"/>
<text transform="translate(312.9,2873.6) scale(1,1.065)" font-size="47" letter-spacing="1.4" text-anchor="end">0.05</text>
<line x1="335.5" y1="3020.3" x2="352.0" y2="3020.3" stroke="#222" stroke-width="2.2"/>
<text transform="translate(312.9,3034.3) scale(1,1.065)" font-size="47" letter-spacing="1.4" text-anchor="end">0.00</text>
<text x="511.9" y="2716.2" font-size="47.5" text-anchor="start">A</text>
<text x="537.9" y="2713.0" font-size="47.5" text-anchor="start">A</text>
<text x="563.6" y="2702.3" font-size="47.5" text-anchor="start">A</text>
<text x="514.9" y="2754.6" font-size="47.5" text-anchor="start">a</text>
<text x="541.6" y="2742.9" font-size="47.5" text-anchor="start">a</text>
<text x="567.7" y="2741.8" font-size="47.5" text-anchor="start">a</text>
<text x="583.2" y="2654.4" font-size="47.5" text-anchor="start">b</text>
<text x="616.3" y="2656.5" font-size="47.5" text-anchor="start">B</text>
<text x="795.8" y="2418.3" font-size="47.5" text-anchor="start">C</text>
<text x="829.8" y="2412.0" font-size="47.5" text-anchor="start">c</text>
<text x="852.3" y="2361.8" font-size="47.5" text-anchor="start">C</text>
<text x="858.3" y="2390.6" font-size="47.5" text-anchor="start">c</text>
<text x="883.6" y="2370.4" font-size="47.5" text-anchor="start">d</text>
<text x="916.1" y="2376.8" font-size="47.5" text-anchor="start">D</text>
<text x="914.9" y="2642.9" font-size="47.5" text-anchor="start">e</text>
<text x="949.5" y="2652.5" font-size="47.5" text-anchor="start">E</text>
<text x="996.2" y="2343.1" font-size="47.5" text-anchor="start">F</text>
<text x="1023.8" y="2341.0" font-size="47.5" text-anchor="start">f</text>
<text x="1051.2" y="2326.0" font-size="47.5" text-anchor="start">F</text>
<text x="1054.2" y="2368.7" font-size="47.5" text-anchor="start">f</text>
<text x="1082.5" y="2350.6" font-size="47.5" text-anchor="start">f</text>
<text x="1096.5" y="2364.4" font-size="47.5" text-anchor="start">F</text>
<text x="1103.0" y="2517.0" font-size="47.5" text-anchor="start">G</text>
<text x="1102.8" y="2545.3" font-size="47.5" text-anchor="start">g</text>
<text x="1106.3" y="2294.0" font-size="47.5" text-anchor="start">H</text>
<text x="1143.9" y="2288.7" font-size="47.5" text-anchor="start">h</text>
<text x="1168.9" y="2273.8" font-size="47.5" text-anchor="start">h</text>
<text x="1161.5" y="2232.9" font-size="47.5" text-anchor="start">H</text>
<text x="1201.0" y="2225.8" font-size="47.5" text-anchor="start">i</text>
<text x="1222.4" y="2234.4" font-size="47.5" text-anchor="start">I</text>
<text x="1233.4" y="2748.0" font-size="47.5" text-anchor="start">j</text>
<text x="1255.6" y="2760.0" font-size="47.5" text-anchor="start">J</text>
<text x="1462.4" y="2703.4" font-size="47.5" text-anchor="start">j</text>
<text x="1474.5" y="2715.2" font-size="47.5" text-anchor="start">J</text>
<text x="1512.6" y="2776.4" font-size="47.5" text-anchor="start">l</text>
<text x="1531.1" y="2778.5" font-size="47.5" text-anchor="start">L</text>
<text x="1486.0" y="2846.7" font-size="47.5" text-anchor="start">K</text>
<text x="1486.1" y="2874.4" font-size="47.5" text-anchor="start">k</text>
<text x="1540.2" y="2860.6" font-size="47.5" text-anchor="start">M</text>
<text x="1549.6" y="2897.9" font-size="47.5" text-anchor="start">m</text>
<text x="1658.8" y="2119.0" font-size="50" text-anchor="start">C</text>
<line x1="569.3" y1="3019.8" x2="569.3" y2="3035.5" stroke="#222" stroke-width="2.2"/>
<text transform="translate(569.7,3103.2) scale(1,1.065)" font-size="47" letter-spacing="1.4" text-anchor="middle">0</text>
<line x1="883.2" y1="3019.8" x2="883.2" y2="3035.5" stroke="#222" stroke-width="2.2"/>
<text transform="translate(883.9000000000001,3103.2) scale(1,1.065)" font-size="47" letter-spacing="1.4" text-anchor="middle">50</text>
<line x1="1072.5" y1="3019.8" x2="1072.5" y2="3035.5" stroke="#222" stroke-width="2.2"/>
<text transform="translate(1072.1000000000001,3103.2) scale(1,1.065)" font-size="47" letter-spacing="1.4" text-anchor="middle">80</text>
<line x1="1198.3" y1="3019.8" x2="1198.3" y2="3035.5" stroke="#222" stroke-width="2.2"/>
<text transform="translate(1199.0,3103.2) scale(1,1.065)" font-size="47" letter-spacing="1.4" text-anchor="middle">100</text>
<line x1="1509.6" y1="3019.8" x2="1509.6" y2="3035.5" stroke="#222" stroke-width="2.2"/>
<text transform="translate(1511.4,3103.2) scale(1,1.065)" font-size="47" letter-spacing="1.4" text-anchor="middle">150</text>
<text x="1021" y="3185.6" font-size="58.9" text-anchor="middle">Treatments (mM)</text>
<rect x="352.5" y="27.5" width="509.5" height="248.3" fill="#fff" stroke="#111" stroke-width="2.3"/>
<rect x="388" y="69.10000000000001" width="88" height="28.0" fill="#000000" stroke="#000" stroke-width="2.2"/>
<text x="497" y="96.2" font-size="38.3">V1: CFX-2</text>
<rect x="388" y="113.9" width="88" height="26.8" fill="#c0c0c0" stroke="#000" stroke-width="2.2"/>
<text x="497" y="140" font-size="38.3">V2: Joey</text>
<rect x="388" y="161.9" width="88" height="24.8" fill="#606060" stroke="#000" stroke-width="2.2"/>
<text x="497" y="187" font-size="38.3">V3: Bialobrzeskie</text>
<rect x="388" y="205.9" width="88" height="25.2" fill="#e0e0e0" stroke="#000" stroke-width="2.2"/>
<text x="497" y="229.8" font-size="38.3">V4: Henola</text>
<text transform="translate(61.5,656.1) rotate(-90) scale(1,1.0444)" font-size="58.19">Catalase</text>
<text transform="translate(159.8,888.6) rotate(-90) scale(1,1.3612)" font-size="44.64">(</text>
<text transform="translate(159.8,856.1) rotate(-90) scale(1,1.0295)" font-size="59.03">µmole</text>
<text transform="translate(159.8,664.1) rotate(-90) scale(1,1.0284)" font-size="59.09">min</text>
<text transform="translate(131.2,559.7) rotate(-90) scale(1,1.1954)" font-size="50.84">-1</text>
<text transform="translate(159.8,488.5) rotate(-90) scale(1,1.0875)" font-size="55.88">mg</text>
<text transform="translate(131.2,401.6) rotate(-90) scale(1,1.2012)" font-size="50.59">-1</text>
<text transform="translate(159.8,328.8) rotate(-90) scale(1,1.0689)" font-size="56.85">protein)</text>
<text transform="translate(95.0,1795.2) rotate(-90) scale(1,1.0451)" font-size="58.15">Guaiacol</text>
<text transform="translate(95.0,1533.4) rotate(-90) scale(1,1.0357)" font-size="58.68">Peroxidase</text>
<text transform="translate(183.8,1898.4) rotate(-90) scale(1,1.0261)" font-size="59.22">(µmole</text>
<text transform="translate(183.8,1688.1) rotate(-90) scale(1,1.0390)" font-size="58.49">min</text>
<text transform="translate(163.0,1582.6) rotate(-90) scale(1,1.2399)" font-size="49.01">-1</text>
<text transform="translate(183.8,1515.8) rotate(-90) scale(1,1.0451)" font-size="58.15">mg</text>
<text transform="translate(163.0,1426.0) rotate(-90) scale(1,1.2128)" font-size="50.11">-1</text>
<text transform="translate(183.8,1353.6) rotate(-90) scale(1,1.0816)" font-size="56.18">protein)</text>
<text transform="translate(61.9,2859.8) rotate(-90) scale(1,1.0482)" font-size="57.97">Ascorbate</text>
<text transform="translate(61.9,2557.2) rotate(-90) scale(1,1.0280)" font-size="59.12">Peroxidase</text>
<text transform="translate(157.3,2913.4) rotate(-90) scale(1,1.0537)" font-size="57.67">(µmole</text>
<text transform="translate(157.3,2706.1) rotate(-90) scale(1,1.0390)" font-size="58.49">min</text>
<text transform="translate(130.5,2601.4) rotate(-90) scale(1,1.3579)" font-size="44.75">-1</text>
<text transform="translate(157.3,2537.5) rotate(-90) scale(1,1.0232)" font-size="59.39">mg</text>
<text transform="translate(130.5,2447.4) rotate(-90) scale(1,1.2369)" font-size="49.13">-1</text>
<text transform="translate(157.3,2374.2) rotate(-90) scale(1,1.0689)" font-size="56.85">protein)</text>
</svg>
</body>
</html>
